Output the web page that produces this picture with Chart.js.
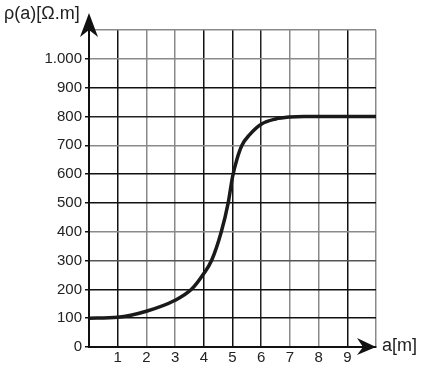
<!DOCTYPE html>
<html>
<head>
<meta charset="utf-8">
<script src="https://cdn.jsdelivr.net/npm/chart.js@4/dist/chart.umd.min.js"></script>
<style>
  html, body { margin: 0; padding: 0; background: #fff; }
  #wrap { width: 421px; height: 368px; }
</style>
</head>
<body>
<div id="wrap"><canvas id="chart" width="421" height="368"></canvas></div>
<script>
// data
const aValues   = [0, 1, 2, 3, 3.57, 4.0, 4.27, 4.61, 4.85, 5.0, 5.15, 5.33, 5.6, 6, 6.5, 7, 7.5, 8, 10];
const rhoValues = [100, 103, 124, 162, 200, 255, 300, 400, 500, 590, 650, 700, 737, 773, 791, 798, 800, 800, 800];
const xTickLabels = ["", "1", "2", "3", "4", "5", "6", "7", "8", "9", ""];
const yTickLabels = ["0", "100", "200", "300", "400", "500", "600", "700", "800", "900", "1.000", ""];

// grid colours (scan looks mixed black / grey)
const xGridColors = ["#111", "#111", "#8a8a8a", "#8a8a8a", "#111", "#111", "#222", "#8a8a8a", "#8a8a8a", "#111", "#8a8a8a"];
const yGridColors = ["#111", "#111", "#111", "#555", "#8a8a8a", "#111", "#111", "#8a8a8a", "#222", "#111", "#8a8a8a", "#8a8a8a"];

const FONT = { family: "'Liberation Sans', Arial, sans-serif", size: 15 };

// arrows + axis titles
const extras = {
  id: "extras",
  afterDraw: (chart) => {
    const ctx = chart.ctx;
    const { left, right, top, bottom } = chart.chartArea;
    ctx.save();
    ctx.strokeStyle = "#111";
    ctx.fillStyle = "#111";
    ctx.lineWidth = 2;
    // y axis up to arrow
    ctx.beginPath();
    ctx.moveTo(left, bottom);
    ctx.lineTo(left, 22);
    ctx.stroke();
    ctx.beginPath();
    ctx.moveTo(left, 13);
    ctx.lineTo(left + 9, 37);
    ctx.lineTo(left, 30);
    ctx.lineTo(left - 9, 37);
    ctx.closePath();
    ctx.fill();
    // x axis arrow
    ctx.beginPath();
    ctx.moveTo(right, bottom);
    ctx.lineTo(right - 19, bottom - 9);
    ctx.lineTo(right - 13, bottom);
    ctx.lineTo(right - 19, bottom + 8);
    ctx.closePath();
    ctx.fill();
    // titles
    ctx.font = "18px 'Liberation Sans', Arial, sans-serif";
    ctx.fillStyle = "#222";
    ctx.textBaseline = "middle";
    ctx.textAlign = "left";
    ctx.fillText("ρ(a)[Ω.m]", 4, 14);
    ctx.fillText("a[m]", 382, 346);
    ctx.restore();
  }
};

new Chart(document.getElementById("chart"), {
  type: "line",
  data: {
    datasets: [{
      data: aValues.map((a, i) => ({ x: a, y: rhoValues[i] })),
      borderColor: "#1a1a1a",
      borderWidth: 3.5,
      pointRadius: 0,
      fill: false,
      cubicInterpolationMode: "monotone"
    }]
  },
  options: {
    responsive: false,
    animation: false,
    layout: { padding: { top: 30, right: 45, left: 0, bottom: 0 } },
    plugins: { legend: { display: false }, tooltip: { enabled: false } },
    scales: {
      x: {
        type: "linear",
        min: 0,
        max: 10,
        afterFit: (s) => { s.height = 21; },
        ticks: {
          stepSize: 1,
          color: "#222",
          font: FONT,
          padding: 2,
          maxRotation: 0,
          autoSkip: false,
          callback: (v) => xTickLabels[v]
        },
        grid: {
          drawTicks: false,
          lineWidth: 1.5,
          color: (c) => xGridColors[c.index] || "#111"
        },
        border: { color: "#111", width: 2 }
      },
      y: {
        min: 0,
        max: 1100,
        afterFit: (s) => { s.width = 89; },
        ticks: {
          stepSize: 100,
          color: "#222",
          font: FONT,
          padding: 3,
          autoSkip: false,
          callback: (v) => yTickLabels[v / 100]
        },
        grid: {
          tickLength: 4,
          lineWidth: 1.5,
          tickColor: "#111",
          color: (c) => yGridColors[c.index] || "#111"
        },
        border: { color: "#111", width: 2 }
      }
    }
  },
  plugins: [extras]
});
</script>
</body>
</html>
